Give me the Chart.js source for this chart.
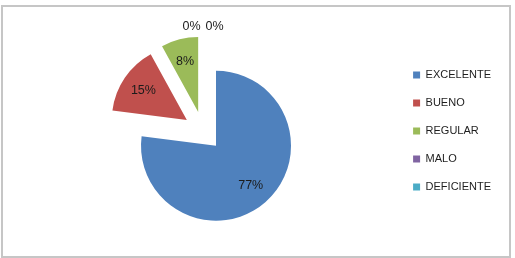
<!DOCTYPE html>
<html>
<head>
<meta charset="utf-8">
<script src="https://cdn.jsdelivr.net/npm/chart.js@4/dist/chart.umd.min.js"></script>
<style>
  html, body { margin: 0; padding: 0; background: #fff; }
  #wrap { position: relative; width: 515px; height: 258px; }
  #frame {
    position: absolute; left: 1px; top: 5px; width: 510px; height: 253px;
    box-sizing: border-box; border: 2px solid #c6c6c6; pointer-events: none;
  }
  canvas { position: absolute; left: 0; top: 0; }
</style>
</head>
<body>
<div id="wrap">
  <canvas id="pieCanvas" width="515" height="258"></canvas>
  <div id="frame"></div>
</div>
<script>
// Categories and values (percent)
const categories = ["EXCELENTE", "BUENO", "REGULAR", "MALO", "DEFICIENTE"];
const values = [77, 15, 8, 0, 0];
const sliceColors = ["#4f81bd", "#c0504d", "#9bbb59", "#8064a2", "#4bacc6"];

const EXPLODE = 19.6;   // how far every slice is pulled out
const PIE_RADIUS = 75;

// Excel style explosion: move each arc along its bisector, radius unchanged
const explodePlugin = {
  id: "explode",
  afterDatasetUpdate(chart, args) {
    const arcs = chart.getDatasetMeta(args.index).data;
    arcs.forEach(arc => {
      const mid = (arc.startAngle + arc.endAngle) / 2;
      arc.x += Math.cos(mid) * EXPLODE;
      arc.y += Math.sin(mid) * EXPLODE;
    });
  }
};

// Percent labels inside each slice, zero slices side by side above the pie
const pctLabels = {
  id: "pctLabels",
  afterDatasetsDraw(chart) {
    const ctx = chart.ctx;
    const arcs = chart.getDatasetMeta(0).data;
    const zeros = values.map((v, i) => v === 0 ? i : -1).filter(i => i >= 0);
    ctx.save();
    ctx.font = "12.5px 'Liberation Sans', Arial, sans-serif";
    ctx.fillStyle = "#1b1b1b";
    ctx.textAlign = "center";
    ctx.textBaseline = "middle";
    arcs.forEach((arc, i) => {
      const mid = (arc.startAngle + arc.endAngle) / 2;
      let x, y;
      if (values[i] === 0) {
        const k = zeros.indexOf(i);
        const d = arc.outerRadius + 10;
        x = arc.x + Math.cos(mid) * d + (k - (zeros.length - 1) / 2) * 23;
        y = arc.y + Math.sin(mid) * d;
      } else {
        const d = arc.outerRadius * 0.7;
        x = arc.x + Math.cos(mid) * d;
        y = arc.y + Math.sin(mid) * d;
      }
      ctx.fillText(values[i] + "%", x, y);
    });
    ctx.restore();
  }
};

const ctx = document.getElementById("pieCanvas").getContext("2d");
const chart = new Chart(ctx, {
  type: "pie",
  data: {
    labels: categories,
    datasets: [{
      data: values,
      backgroundColor: sliceColors,
      borderWidth: 0,
      radius: PIE_RADIUS
    }]
  },
  options: {
    responsive: false,
    animation: false,
    events: [],
    layout: { padding: { left: 10, right: 14, top: 4, bottom: 0 } },
    plugins: {
      legend: {
        position: "right",
        labels: {
          boxWidth: 7,
          boxHeight: 7,
          padding: 17,
          color: "#1e1e1e",
          font: { family: "'Liberation Sans', Arial, sans-serif", size: 11 }
        }
      },
      tooltip: { enabled: false }
    }
  },
  plugins: [explodePlugin, pctLabels]
});
</script>
</body>
</html>
